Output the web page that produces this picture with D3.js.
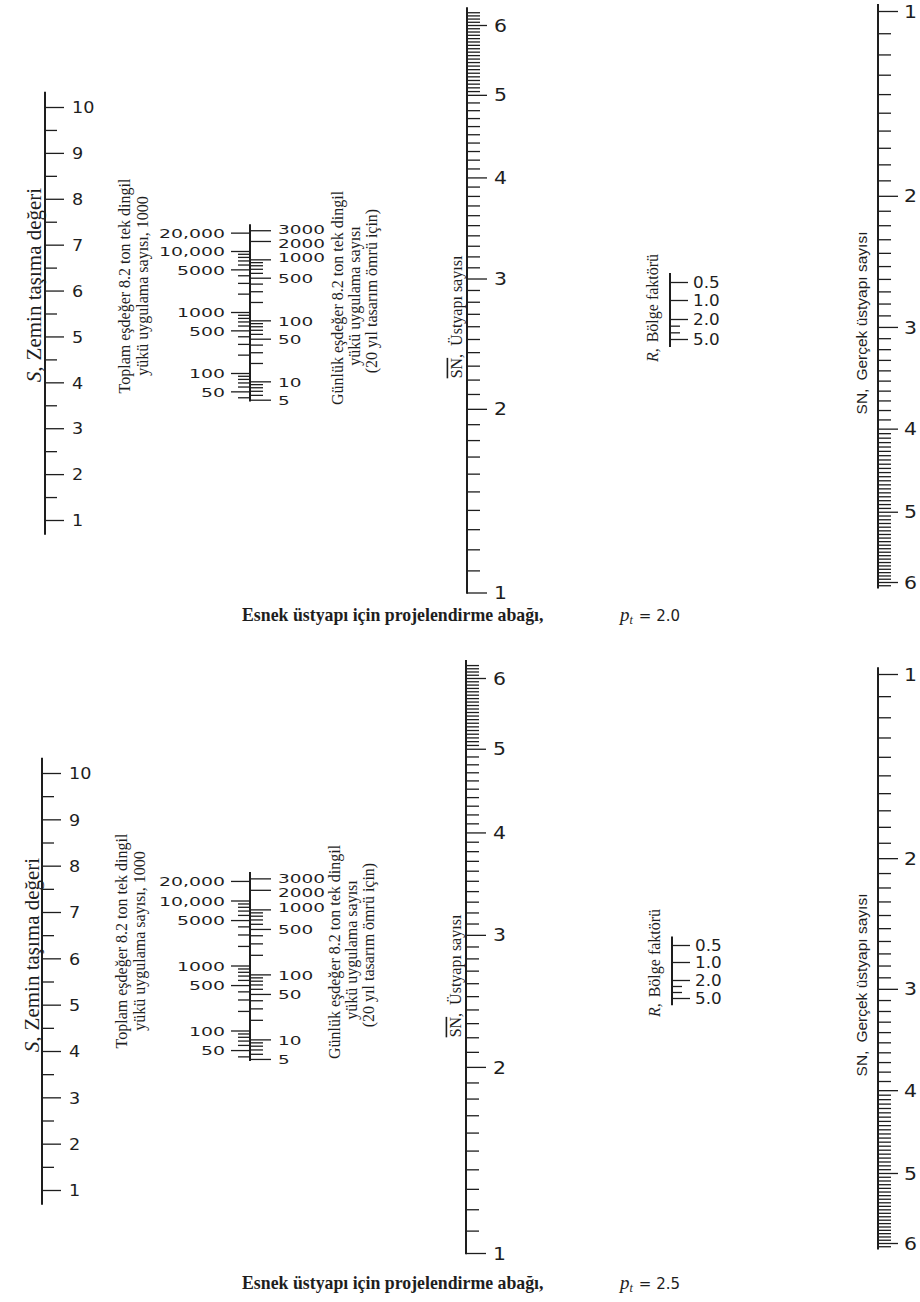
<!DOCTYPE html>
<html>
<head>
<meta charset="utf-8">
<script src="https://cdn.jsdelivr.net/npm/d3@7"></script>
<style>
  body { margin: 0; background: #fff; }
  svg { display: block; }
</style>
</head>
<body>
<svg id="chart" width="920" height="1302"></svg>
<script>
// ---- Scale graduations -------------------------------------------------
// S, soil support value (linear)
const soilMajor = [1, 2, 3, 4, 5, 6, 7, 8, 9, 10];
const soilMinor = [1.5, 2.5, 3.5, 4.5, 5.5, 6.5, 7.5, 8.5, 9.5];
const soilExtent = [0.68, 10.33];

// Total equivalent 8.2 t single axle loads, thousands (log)
const totalMajor = [20000, 10000, 5000, 1000, 500, 100, 50];
const totalLabels = ["20,000", "10,000", "5000", "1000", "500", "100", "50"];
const totalMinor = [9000, 8000, 7000, 6000, 4000, 3000, 2000,
                    900, 800, 700, 600, 400, 300, 200,
                    90, 80, 70, 60, 40];
// Daily equivalent loads over a 20 year design life
const dailyMajor = [3000, 2000, 1000, 500, 100, 50, 10, 5];
const dailyLabels = ["3000", "2000", "1000", "500", "100", "50", "10", "5"];
const dailyMinor = [900, 800, 700, 600, 400, 300, 200,
                    90, 80, 70, 60, 40, 30, 20,
                    9, 8, 7, 6];
const trafficExtent = [34, 27500];
const designYears = 20;
const daysPerYear = 365;

// Structural numbers, plotted on log10(SN + 1)
const snMajor = [1, 2, 3, 4, 5, 6];
const snBarMinor = [1.1, 1.2, 1.3, 1.4, 1.5, 1.6, 1.7, 1.8, 1.9,
                    2.1, 2.2, 2.3, 2.4, 2.5, 2.6, 2.7, 2.8, 2.9,
                    3.1, 3.2, 3.3, 3.4, 3.5, 3.6, 3.7, 3.8, 3.9,
                    4.1, 4.2, 4.3, 4.4, 4.5, 4.6, 4.7, 4.8, 4.9,
                    5.05, 5.1, 5.15, 5.2, 5.25, 5.3, 5.35, 5.4, 5.45, 5.5,
                    5.55, 5.6, 5.65, 5.7, 5.75, 5.8, 5.85, 5.9, 5.95,
                    6.05, 6.1, 6.15, 6.2];
const snBarExtent = [0.995, 6.28];
const snRealMinor = [1.1, 1.2, 1.3, 1.4, 1.5, 1.6, 1.7, 1.8, 1.9,
                     2.1, 2.2, 2.3, 2.4, 2.5, 2.6, 2.7, 2.8, 2.9,
                     3.1, 3.2, 3.3, 3.4, 3.5, 3.6, 3.7, 3.8, 3.9,
                     4.05, 4.1, 4.15, 4.2, 4.25, 4.3, 4.35, 4.4, 4.45, 4.5,
                     4.55, 4.6, 4.65, 4.7, 4.75, 4.8, 4.85, 4.9, 4.95,
                     5.05, 5.1, 5.15, 5.2, 5.25, 5.3, 5.35, 5.4, 5.45, 5.5,
                     5.55, 5.6, 5.65, 5.7, 5.75, 5.8, 5.85, 5.9, 5.95, 6.05];
const snRealExtent = [0.97, 6.1];

// R, regional factor
const regionMajor = [0.5, 1.0, 2.0, 5.0];
const regionLabels = ["0.5", "1.0", "2.0", "5.0"];
const regionMinor = [3, 4];
const regionExtent = [0.25, 6.2];

// Terminal serviceability of each chart
const terminalPSI = ["2.0", "2.5"];

// ---- Layout of the two nomographs ---------------------------------------
const panels = [
  {
    soil: { x: 45, y1: 520, y10: 107 },
    traffic: { x: 250, y10k: 251, decade: 61 },
    snBar: { x: 467, y1: 592.5, y6: 25 },
    region: { x: 670, y: [282, 300, 319, 339] },
    snReal: { x: 878, y1: 11, y6: 582 },
    lab: {
      soil: [34, 285], total: [[124, 286], [142, 286]],
      daily: [[337, 298], [354, 296], [371, 291]],
      snBar: [456, 317], region: [652, 308], snReal: [862, 323]
    },
    title: { x: 242, y: 621, px: 620 }
  },
  {
    soil: { x: 42, y1: 1190, y10: 773 },
    traffic: { x: 250, y10k: 900.5, decade: 65 },
    snBar: { x: 466, y1: 1253, y6: 678 },
    region: { x: 672, y: [945, 962, 980, 998] },
    snReal: { x: 878, y1: 674, y6: 1243 },
    lab: {
      soil: [32, 955], total: [[121, 941], [139, 941]],
      daily: [[334, 952], [351, 950], [368, 945]],
      snBar: [455, 976], region: [654, 963], snReal: [862, 985]
    },
    title: { x: 242, y: 1289, px: 620 }
  }
];
// vertical nudges of the crowded daily-load labels
const dailyLabelNudge = [-1, 2, -2.5, 0, 0, 0, 0, 0];

const INK = "#1e1e1e";
const SANS = "'DejaVu Sans', Verdana, sans-serif";
const SERIF = "'Liberation Serif', 'Times New Roman', serif";

const svg = d3.select("#chart");

// one set of ticks (major or minor) from a d3 axis
function ticks(g, scale, x, side, values, size, opts = {}) {
  const axis = (side === "right" ? d3.axisRight(scale) : d3.axisLeft(scale))
    .tickValues(values)
    .tickSize(size)
    .tickSizeOuter(0)
    .tickPadding(opts.pad ?? 6)
    .tickFormat(opts.labels ? (d, i) => opts.labels[i] : () => "");
  const a = g.append("g")
    .attr("transform", `translate(${x},0)`)
    .call(axis);
  a.select(".domain").remove();
  a.attr("color", INK);
  a.selectAll(".tick line").attr("stroke-width", opts.sw ?? 1.3);
  a.selectAll(".tick text")
    .attr("font-family", SANS)
    .attr("font-size", opts.fs ?? 16)
    .attr("fill", INK)
    .attr("dy", opts.dy ?? "0.36em")
    .each(function (d, i) {
      const t = d3.select(this);
      const tx = +t.attr("x");
      const ty = opts.nudge ? opts.nudge[i] : 0;
      t.attr("x", 0).attr("transform", `translate(${tx},${ty}) scale(${opts.sx ?? 1.1},1)`);
    });
  return a;
}

function spine(g, scale, x, extent) {
  g.append("line")
    .attr("x1", x).attr("x2", x)
    .attr("y1", scale(extent[0])).attr("y2", scale(extent[1]))
    .attr("stroke", INK).attr("stroke-width", 2);
}

// rotated label reading bottom-to-top
function vlabel(g, pos, font, size) {
  return g.append("text")
    .attr("transform", `translate(${pos[0]},${pos[1]}) rotate(-90)`)
    .attr("text-anchor", "middle")
    .attr("dy", "0.35em")
    .attr("font-family", font)
    .attr("font-size", size)
    .attr("fill", INK);
}

panels.forEach((p, idx) => {
  const g = svg.append("g");

  // S scale
  const sScale = d3.scaleLinear().domain([1, 10]).range([p.soil.y1, p.soil.y10]);
  spine(g, sScale, p.soil.x, soilExtent);
  ticks(g, sScale, p.soil.x, "right", soilMinor, 12);
  ticks(g, sScale, p.soil.x, "right", soilMajor, 19,
        { labels: soilMajor.map(String), pad: 8, fs: 16, sx: 1.1 });

  // traffic scales (total on the left, daily on the right)
  const tScale = d3.scaleLog().domain([10000, 1000])
    .range([p.traffic.y10k, p.traffic.y10k + p.traffic.decade]);
  const perDay = 1000 / (designYears * daysPerYear);
  const dScale = d3.scaleLog().domain([10000 * perDay, 1000 * perDay])
    .range([p.traffic.y10k, p.traffic.y10k + p.traffic.decade]);
  spine(g, tScale, p.traffic.x, trafficExtent);
  ticks(g, tScale, p.traffic.x, "left", totalMinor, 12);
  ticks(g, tScale, p.traffic.x, "left", totalMajor, 19,
        { labels: totalLabels, pad: 6, fs: 13, sx: 1.45 });
  ticks(g, dScale, p.traffic.x, "right", dailyMinor, 13);
  ticks(g, dScale, p.traffic.x, "right", dailyMajor, 21,
        { labels: dailyLabels, pad: 7, fs: 13, sx: 1.42, nudge: dailyLabelNudge });

  // SN-bar scale
  const bScale = d3.scaleLog().domain([2, 7]).range([p.snBar.y1, p.snBar.y6]);
  const bAxis = v => v + 1;
  spine(g, bScale, p.snBar.x, snBarExtent.map(bAxis));
  ticks(g, bScale, p.snBar.x, "right", snBarMinor.map(bAxis), 13);
  ticks(g, bScale, p.snBar.x, "right", snMajor.map(bAxis), 20,
        { labels: snMajor.map(String), pad: 7, fs: 17, sx: 1.2 });

  // R scale
  const rScale = d3.scaleLinear().domain(regionMajor).range(p.region.y);
  spine(g, rScale, p.region.x, regionExtent);
  ticks(g, rScale, p.region.x, "right", regionMinor, 10);
  ticks(g, rScale, p.region.x, "right", regionMajor, 18,
        { labels: regionLabels, pad: 5, fs: 15, sx: 1.12 });

  // SN scale
  const nScale = d3.scaleLog().domain([2, 7]).range([p.snReal.y1, p.snReal.y6]);
  spine(g, nScale, p.snReal.x, snRealExtent.map(bAxis));
  ticks(g, nScale, p.snReal.x, "right", snRealMinor.map(bAxis), 13);
  ticks(g, nScale, p.snReal.x, "right", snMajor.map(bAxis), 20,
        { labels: snMajor.map(String), pad: 6, fs: 17, sx: 1.2 });

  // axis titles
  const L = p.lab;
  const s = vlabel(g, L.soil, SERIF, 21);
  s.append("tspan").attr("font-style", "italic").text("S,");
  s.append("tspan").attr("dx", 6).text("Zemin taşıma değeri");

  vlabel(g, L.total[0], SERIF, 16).text("Toplam eşdeğer 8.2 ton tek dingil");
  vlabel(g, L.total[1], SERIF, 16).text("yükü uygulama sayısı, 1000");

  vlabel(g, L.daily[0], SERIF, 16).text("Günlük eşdeğer 8.2 ton tek dingil");
  vlabel(g, L.daily[1], SERIF, 16).text("yükü uygulama sayısı");
  vlabel(g, L.daily[2], SERIF, 16).text("(20 yıl tasarım ömrü için)");

  const b = vlabel(g, L.snBar, SERIF, 16);
  b.append("tspan").attr("text-decoration", "overline").text("SN");
  b.append("tspan").text(",");
  b.append("tspan").attr("dx", 8).text("Üstyapı sayısı");

  const r = vlabel(g, L.region, SERIF, 16);
  r.append("tspan").attr("font-style", "italic").text("R,");
  r.append("tspan").attr("dx", 6).text("Bölge faktörü");

  const n = vlabel(g, L.snReal, "'Liberation Sans', Arial, sans-serif", 15.5);
  n.append("tspan").text("SN,");
  n.append("tspan").attr("dx", 8).text("Gerçek üstyapı sayısı");

  // chart caption
  const t = g.append("text")
    .attr("x", p.title.x).attr("y", p.title.y)
    .attr("fill", INK);
  t.append("tspan")
    .attr("font-family", SERIF).attr("font-weight", "bold").attr("font-size", 17.8)
    .text("Esnek üstyapı için projelendirme abağı,");
  t.append("tspan")
    .attr("x", p.title.px)
    .attr("font-family", SERIF).attr("font-style", "italic").attr("font-size", 19)
    .text("p");
  t.append("tspan")
    .attr("font-family", SERIF).attr("font-style", "italic").attr("font-size", 12)
    .attr("dy", 3)
    .text("t");
  t.append("tspan")
    .attr("dy", -3).attr("dx", 6)
    .attr("font-family", SANS).attr("font-size", 15)
    .text("= " + terminalPSI[idx]);
});
</script>
</body>
</html>
